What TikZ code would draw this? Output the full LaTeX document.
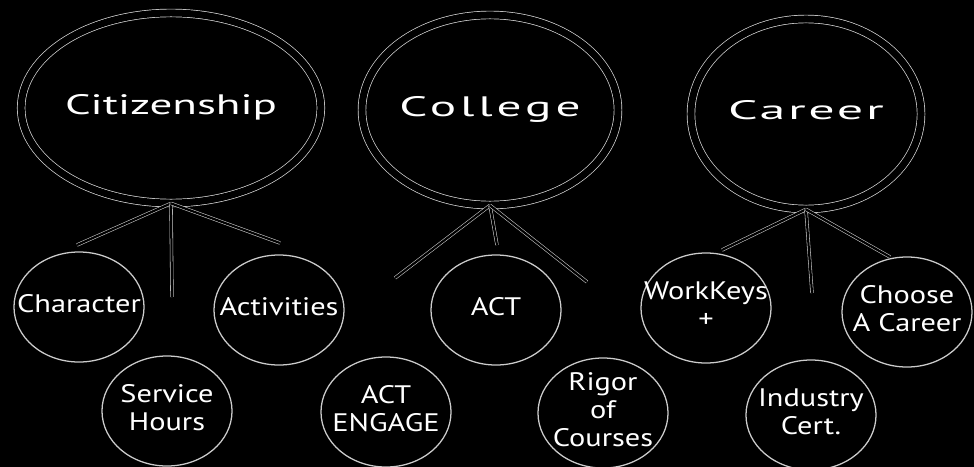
\documentclass[tikz,border=0pt]{standalone}
\usepackage{graphicx}
\usepackage{fontspec}
\setmainfont{PT Sans}
\usetikzlibrary{shapes.geometric}

% text in the picture is set wide
\newcommand\widen[2]{\scalebox{#1}[1]{\begin{tabular}{@{}c@{}}#2\end{tabular}}}

\tikzset{
  goal/.style={ellipse, draw=white!85!black, double=black, double distance=5pt,
    line width=0.5pt, minimum width=5.75cm, minimum height=4.75cm, inner sep=0pt,
    text=white, font=\fontsize{20}{24}\selectfont},
  part/.style={ellipse, draw=white!80!black, line width=0.9pt,
    minimum width=3.25cm, minimum height=2.75cm, inner sep=0pt,
    label={[partlbl]center:\widen{1.2}{#1}}},
  partlbl/.style={inner sep=0pt, text=white, font=\fontsize{18}{20}\selectfont},
  fan/.style={draw=white!80!black, double=black, double distance=1.6pt, line width=0.4pt}
}

\begin{document}
\begin{tikzpicture}[x=0.025cm,y=-0.025cm]
  \fill[black] (0,0) rectangle (974,467);
  \useasboundingbox (0,0) rectangle (974,467);

  \node[goal](cit) at (171,108) {\widen{1.6}{Citizenship}};
  \node[goal](col) at (490,110) {\widen{1.75}{\addfontfeatures{LetterSpace=8}College}};
  \node[goal](car) at (806,114) {\fontsize{19}{20}\selectfont\widen{1.95}{\addfontfeatures{LetterSpace=5}Career}};

  \node[part=Character](char) at (79,307) {};
  \node[part=Activities](activ) at (279,310) {};
  \node[part={Service\\Hours}](serv) at (167,411) {};

  \node[part=ACT](actn) at (496,310) {};
  \node[part={ACT\\ENGAGE}](engage) at (386,412) {};
  \node[part={Rigor\\of\\Courses}](rigor) at (603,413) {};

  \node[part={WorkKeys\\+}](wkeys) at (706,308) {};
  \node[part={Choose\\A Career}](choose) at (907,312) {};
  \node[part={Industry\\Cert.}](indus) at (811,415) {};

  % loose ends of the fans
  \coordinate (cit-l) at (77,245);
  \coordinate (cit-m) at (172,297);
  \coordinate (cit-r) at (280,243);
  \coordinate (col-l) at (395,278);
  \coordinate (col-m) at (497,245);
  \coordinate (col-r) at (587,282);
  \coordinate (car-l) at (722,250);
  \coordinate (car-m) at (812,293);
  \coordinate (car-r) at (890,257);

  \foreach \g in {cit,col,car}{
    \draw[fan] (\g.south) -- (\g-l);
    \draw[fan] (\g.south) -- (\g-m);
    \draw[fan] (\g.south) -- (\g-r);
  }
\end{tikzpicture}
\end{document}
